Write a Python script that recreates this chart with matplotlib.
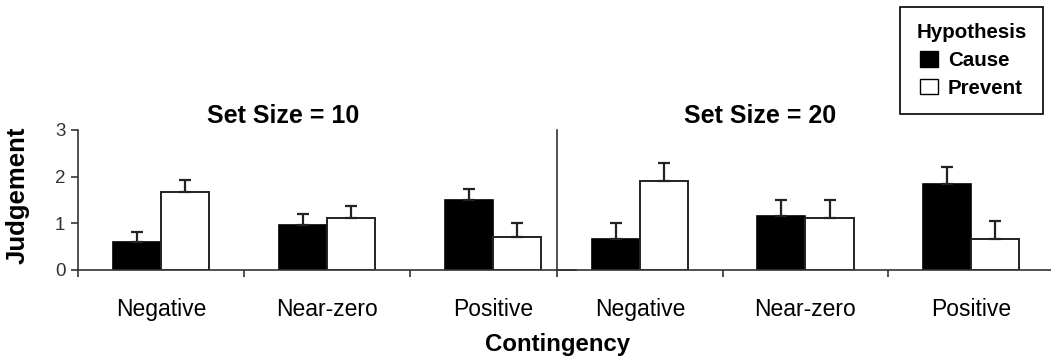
import matplotlib.pyplot as plt
from matplotlib.patches import Patch

plt.rcParams["font.family"] = ["Liberation Sans", "DejaVu Sans"]

categories = ["Negative", "Near-zero", "Positive"]
set_titles = ["Set Size = 10", "Set Size = 20"]

# Mean judgement and upper error per contingency
cause_10 = [0.59, 0.96, 1.49]
prevent_10 = [1.68, 1.12, 0.71]
cause_err_10 = [0.22, 0.25, 0.24]
prevent_err_10 = [0.24, 0.25, 0.30]

cause_20 = [0.66, 1.15, 1.85]
prevent_20 = [1.90, 1.12, 0.66]
cause_err_20 = [0.35, 0.34, 0.35]
prevent_err_20 = [0.39, 0.37, 0.38]

y_ticks = [0, 1, 2, 3]

W, H = 1051, 358
fig = plt.figure(figsize=(W / 100, H / 100), dpi=100)


def px_axes(x0, x1, y_top, y_bot):
    return fig.add_axes([x0 / W, 1 - y_bot / H, (x1 - x0) / W, (y_bot - y_top) / H])


ax_left = px_axes(78, 576, 130, 270)
ax_right = px_axes(557, 1054, 130, 270)
ax_right.patch.set_alpha(0)

panels = [
    (ax_left, cause_10, prevent_10, cause_err_10, prevent_err_10, [0, 1, 2]),
    (ax_right, cause_20, prevent_20, cause_err_20, prevent_err_20, [0, 1, 2, 3]),
]

bw = 0.29
centers = [0.5, 1.5, 2.5]
for ax, cause, prevent, cerr, perr, bounds in panels:
    xc = [c - bw / 2 for c in centers]
    xp = [c + bw / 2 for c in centers]
    ax.bar(xc, cause, width=bw, color="black", edgecolor="black", linewidth=1.2, zorder=2)
    ax.bar(xp, prevent, width=bw, color="white", edgecolor="#222222", linewidth=1.4, zorder=2)
    ax.errorbar(xc, cause, yerr=[[0] * 3, cerr], fmt="none", ecolor="#222222",
                elinewidth=1.6, capsize=4, capthick=1.6, zorder=3)
    ax.errorbar(xp, prevent, yerr=[[0] * 3, perr], fmt="none", ecolor="#222222",
                elinewidth=1.6, capsize=4, capthick=1.6, zorder=3)
    ax.set_xlim(0, 3)
    ax.set_ylim(0, 3)
    ax.set_xticks(bounds)
    ax.set_xticklabels([])
    ax.set_xticks(centers, minor=True)
    ax.set_xticklabels(categories, minor=True, fontsize=16.5)
    ax.tick_params(axis="x", which="major", direction="out", length=5, width=1.2, color="#333333")
    ax.tick_params(axis="x", which="minor", length=0, pad=20)
    for s in ["top", "right"]:
        ax.spines[s].set_visible(False)
    for s in ["left", "bottom"]:
        ax.spines[s].set_linewidth(1.2)
        ax.spines[s].set_color("#333333")

ax_left.set_yticks(y_ticks)
ax_left.tick_params(axis="y", direction="out", length=5, width=1.2, color="#333333",
                    labelsize=13.5, labelcolor="#333333", pad=4)
ax_right.set_yticks([])

fig.text(283 / W, 1 - 116 / H, set_titles[0], fontsize=18, fontweight="bold", ha="center", va="center")
fig.text(760 / W, 1 - 116 / H, set_titles[1], fontsize=18, fontweight="bold", ha="center", va="center")
fig.text(18 / W, 1 - 195 / H, "Judgement", fontsize=18.5, fontweight="bold", rotation=90,
         ha="center", va="center")
fig.text(558 / W, 1 - 344 / H, "Contingency", fontsize=17.3, fontweight="bold", ha="center", va="center")

handles = [Patch(facecolor="black", edgecolor="black", label="Cause"),
           Patch(facecolor="white", edgecolor="black", label="Prevent")]
leg = fig.legend(handles=handles, title="Hypothesis", loc="upper right",
                 bbox_to_anchor=(1043 / W, 1 - 7 / H), borderaxespad=0, frameon=True, fancybox=False,
                 edgecolor="black", framealpha=1, prop={"size": 14.8, "weight": "bold"},
                 title_fontproperties={"size": 14.8, "weight": "bold"},
                 handlelength=0.9, handleheight=0.8, handletextpad=0.45,
                 labelspacing=0.42, borderpad=0.8)
leg.get_frame().set_linewidth(1.2)

fig.savefig("out.png", dpi=100)
